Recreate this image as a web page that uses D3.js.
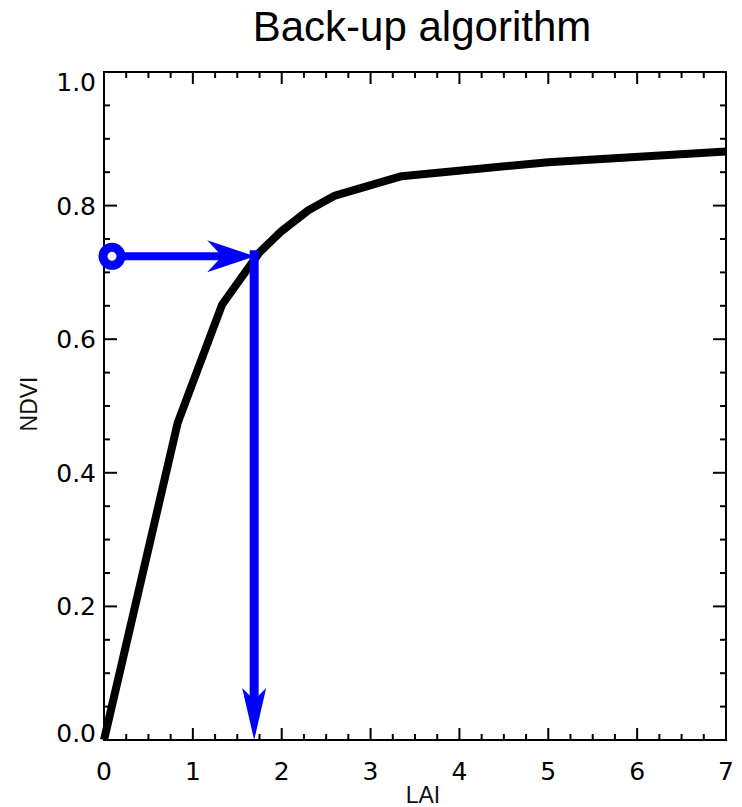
<!DOCTYPE html>
<html>
<head>
<meta charset="utf-8">
<script src="https://cdnjs.cloudflare.com/ajax/libs/d3/7.8.5/d3.min.js"></script>
<style>
  body { margin: 0; background: #fff; }
  .tick-label { font-family: "DejaVu Sans", sans-serif; font-size: 25px; fill: #000; }
  .axis-title { font-family: "Liberation Sans", sans-serif; font-size: 23px; fill: #111; }
  .title { font-family: "Liberation Sans", Arial, sans-serif; font-size: 42px; fill: #000; }
</style>
</head>
<body>
<script>

// curve data
var laiValues = [0, 0.83, 1.33, 1.75, 2.0, 2.3, 2.6, 3.35, 5.0, 7.0];
var ndviValues = [0, 0.475, 0.652, 0.730, 0.762, 0.793, 0.815, 0.844, 0.865, 0.881];

// back-up lookup: measured NDVI and retrieved LAI
var startLai = 0.09;
var lookupNdvi = 0.724;
var retrievedLai = 1.69;

var xTicks = [0, 1, 2, 3, 4, 5, 6, 7];
var yTicks = [0.0, 0.2, 0.4, 0.6, 0.8, 1.0];

window.onload = function() {

  var w = 742,
      h = 807,
      margin = {top: 72, right: 16, bottom: 67, left: 104};

  var svg = d3.select("body")
    .append("svg")
    .attr("width", w)
    .attr("height", h);

  var x_scale = d3.scaleLinear()
    .domain([0, 7])
    .range([margin.left, w - margin.right]);

  var y_scale = d3.scaleLinear()
    .domain([0, 1])
    .range([h - margin.bottom, margin.top]);

  make_axis(svg, x_scale, y_scale);
  make_curve(svg, x_scale, y_scale);
  make_arrows(svg, x_scale, y_scale);
  make_titles(svg, x_scale, y_scale);
};

function make_axis(svg, x_scale, y_scale) {
  var x0 = x_scale.range()[0], x1 = x_scale.range()[1];
  var y0 = y_scale.range()[0], y1 = y_scale.range()[1];

  // minor ticks
  var xMinor = d3.range(0, 7.0001, 0.25);
  var yMinor = d3.range(0, 1.0001, 0.05);

  var g = svg.append("g").attr("stroke", "#000").attr("stroke-width", 2);

  // x ticks bottom and top
  xMinor.forEach(function(v) {
    var major = Math.abs(v - Math.round(v)) < 1e-6;
    var len = major ? 12 : 6;
    g.append("line").attr("x1", x_scale(v)).attr("x2", x_scale(v))
      .attr("y1", y0).attr("y2", y0 - len);
    g.append("line").attr("x1", x_scale(v)).attr("x2", x_scale(v))
      .attr("y1", y1).attr("y2", y1 + len);
  });

  // y ticks left and right
  yMinor.forEach(function(v) {
    var major = Math.abs(v * 5 - Math.round(v * 5)) < 1e-6;
    var len = major ? 13 : 6;
    g.append("line").attr("y1", y_scale(v)).attr("y2", y_scale(v))
      .attr("x1", x0).attr("x2", x0 + len);
    g.append("line").attr("y1", y_scale(v)).attr("y2", y_scale(v))
      .attr("x1", x1).attr("x2", x1 - len);
  });

  // frame
  svg.append("rect")
    .attr("x", x0).attr("y", y1)
    .attr("width", x1 - x0).attr("height", y0 - y1)
    .attr("fill", "none").attr("stroke", "#000").attr("stroke-width", 2);

  // labels
  svg.selectAll(".xlab")
    .data(xTicks)
    .enter()
    .append("text")
    .attr("class", "tick-label")
    .attr("x", function(d) { return x_scale(d); })
    .attr("y", y0 + 40)
    .attr("text-anchor", "middle")
    .text(function(d) { return d3.format("d")(d); });

  svg.selectAll(".ylab")
    .data(yTicks)
    .enter()
    .append("text")
    .attr("class", "tick-label")
    .attr("x", x0 - 8)
    .attr("y", function(d) {
      var off = 9;
      if (d === 1) off = 19;
      if (d === 0) off = 2;
      return y_scale(d) + off;
    })
    .attr("text-anchor", "end")
    .text(function(d) { return d3.format(".1f")(d); });
}

function make_curve(svg, x_scale, y_scale) {
  var pts = laiValues.map(function(v, i) { return [v, ndviValues[i]]; });

  var line = d3.line()
    .x(function(d) { return x_scale(d[0]); })
    .y(function(d) { return y_scale(d[1]); });

  svg.append("path")
    .datum(pts)
    .attr("d", line)
    .attr("fill", "none")
    .attr("stroke", "#000")
    .attr("stroke-width", 8)
    .attr("stroke-linejoin", "round");
}

function arrow_head(tx, ty, dx, dy, len, half, notch) {
  // tip at (tx,ty), pointing along (dx,dy)
  var px = -dy, py = dx;
  var bx = tx - dx * len, by = ty - dy * len;
  var nx = tx - dx * (len - notch), ny = ty - dy * (len - notch);
  return "M" + tx + "," + ty +
    "L" + (bx + px * half) + "," + (by + py * half) +
    "L" + nx + "," + ny +
    "L" + (bx - px * half) + "," + (by - py * half) + "Z";
}

function make_arrows(svg, x_scale, y_scale) {
  var blue = "#0000ff";
  var cx = x_scale(startLai), cy = y_scale(lookupNdvi);
  var ax = x_scale(retrievedLai);
  var yb = y_scale(0);

  // horizontal shaft
  svg.append("line")
    .attr("x1", cx).attr("y1", cy)
    .attr("x2", ax - 20).attr("y2", cy)
    .attr("stroke", blue).attr("stroke-width", 8);

  svg.append("path")
    .attr("d", arrow_head(ax + 1, cy, 1, 0, 48, 16, 15))
    .attr("fill", blue);

  // vertical shaft
  svg.append("line")
    .attr("x1", ax).attr("y1", cy - 6)
    .attr("x2", ax).attr("y2", yb - 30)
    .attr("stroke", blue).attr("stroke-width", 9);

  svg.append("path")
    .attr("d", arrow_head(ax, yb, 0, 1, 52, 12, 12))
    .attr("fill", blue);

  // start circle
  svg.append("circle")
    .attr("cx", cx).attr("cy", cy)
    .attr("r", 9)
    .attr("fill", "#fff")
    .attr("stroke", blue)
    .attr("stroke-width", 9);
}

function make_titles(svg, x_scale, y_scale) {
  var xm = (x_scale.range()[0] + x_scale.range()[1]) / 2;
  var ym = (y_scale.range()[0] + y_scale.range()[1]) / 2;

  svg.append("text")
    .attr("class", "title")
    .attr("x", 422)
    .attr("y", 41)
    .attr("text-anchor", "middle")
    .text("Back-up algorithm");

  svg.append("text")
    .attr("class", "axis-title")
    .attr("x", xm + 8)
    .attr("y", 803)
    .attr("text-anchor", "middle")
    .text("LAI");

  svg.append("text")
    .attr("class", "axis-title")
    .attr("transform", "translate(37," + (ym - 2) + ") rotate(-90)")
    .attr("text-anchor", "middle")
    .text("NDVI");
}
</script>
</body>
</html>
